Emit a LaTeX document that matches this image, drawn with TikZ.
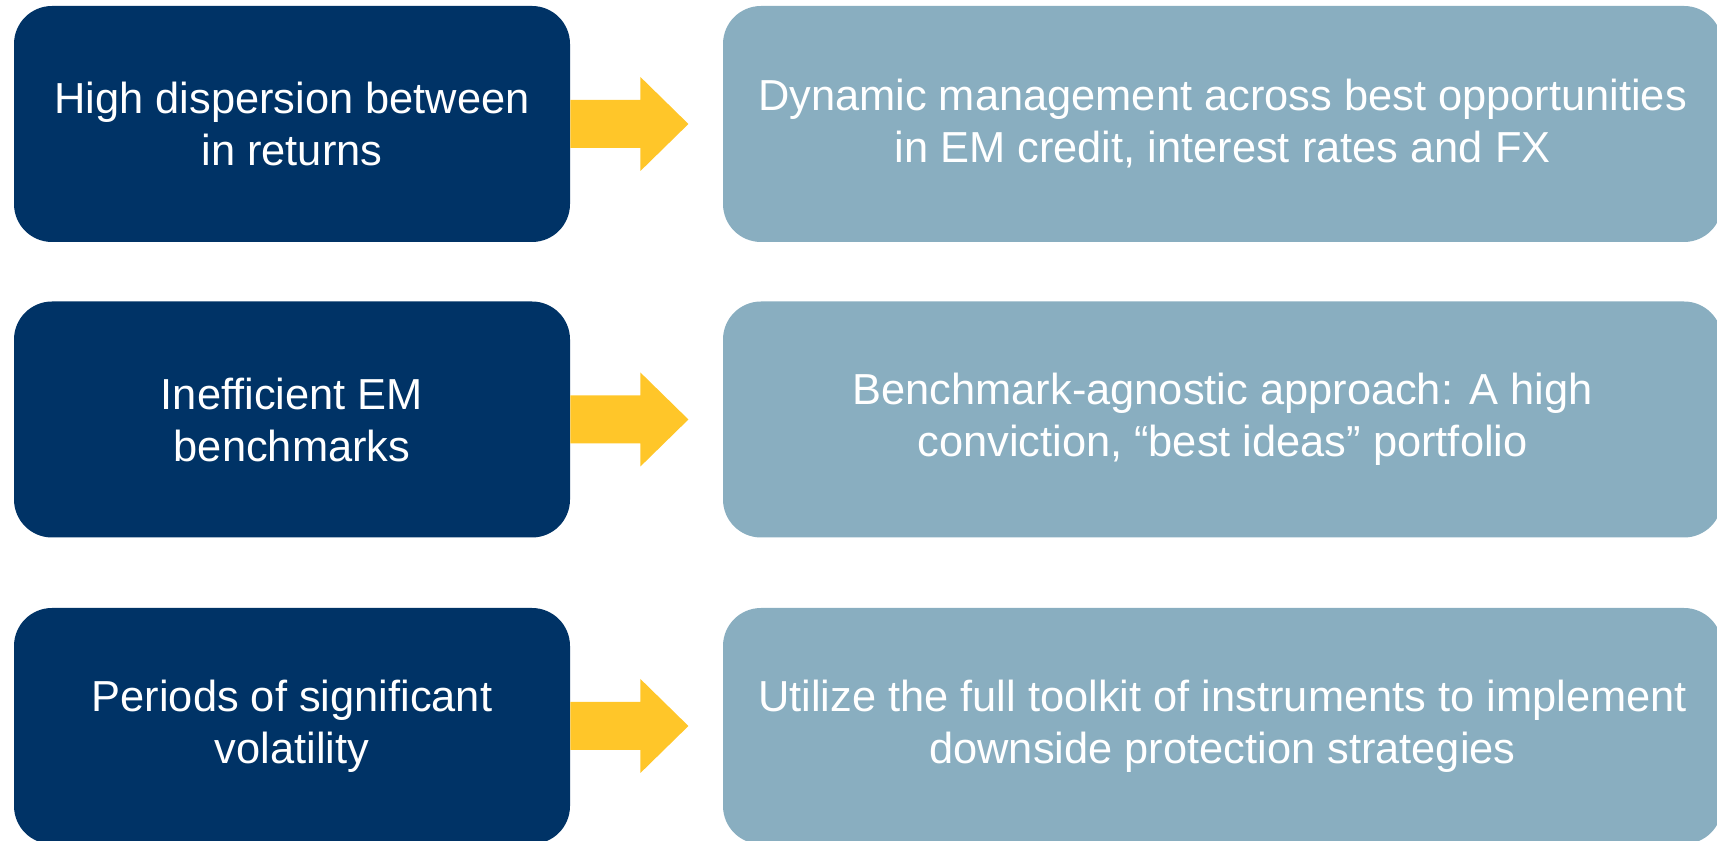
\documentclass[tikz,border=0pt]{standalone}
\usepackage{fontspec}
\setmainfont{Liberation Sans}
\usepackage{xcolor}
\usepackage{tikz}

\definecolor{navy}{HTML}{003366}
\definecolor{steel}{HTML}{89AEC0}
\definecolor{gold}{HTML}{FFC629}

\tikzset{
    causebox/.style={fill=navy,text=white,rounded corners=19pt,inner sep=0pt,
        minimum width=278pt,minimum height=118pt,align=center,
        font=\fontsize{21.7}{26}\selectfont},
    actionbox/.style={causebox,fill=steel,minimum width=499.5pt}
}

\begin{document}
\begin{tikzpicture}[x=0.5pt,y=0.5pt]
    % Page
    \clip (0,0) rectangle (1717,840);

    % Rows: cause on the left, response on the right
    \foreach \i/\y/\cause/\action in {
        1/716/{High dispersion between\\in returns}/{Dynamic management across best opportunities\\in EM credit, interest rates and FX},
        2/420.5/{Inefficient EM\\benchmarks}/{Benchmark-agnostic approach: A high\\conviction, “best ideas” portfolio},
        3/114/{Periods of significant\\volatility}/{Utilize the full toolkit of instruments to implement\\downside protection strategies}} {
        \node[causebox] (cause\i) at (292,\y) {\cause};
        \node[actionbox] (action\i) at (1222.5,\y) {\action};

        % Block arrow
        \fill[gold] (cause\i.east) ++(0,24) -- ++(70,0) -- ++(0,23) -- ++(48,-47)
            -- ++(-48,-47) -- ++(0,23) -- ++(-70,0) -- cycle;
    }
\end{tikzpicture}
\end{document}
